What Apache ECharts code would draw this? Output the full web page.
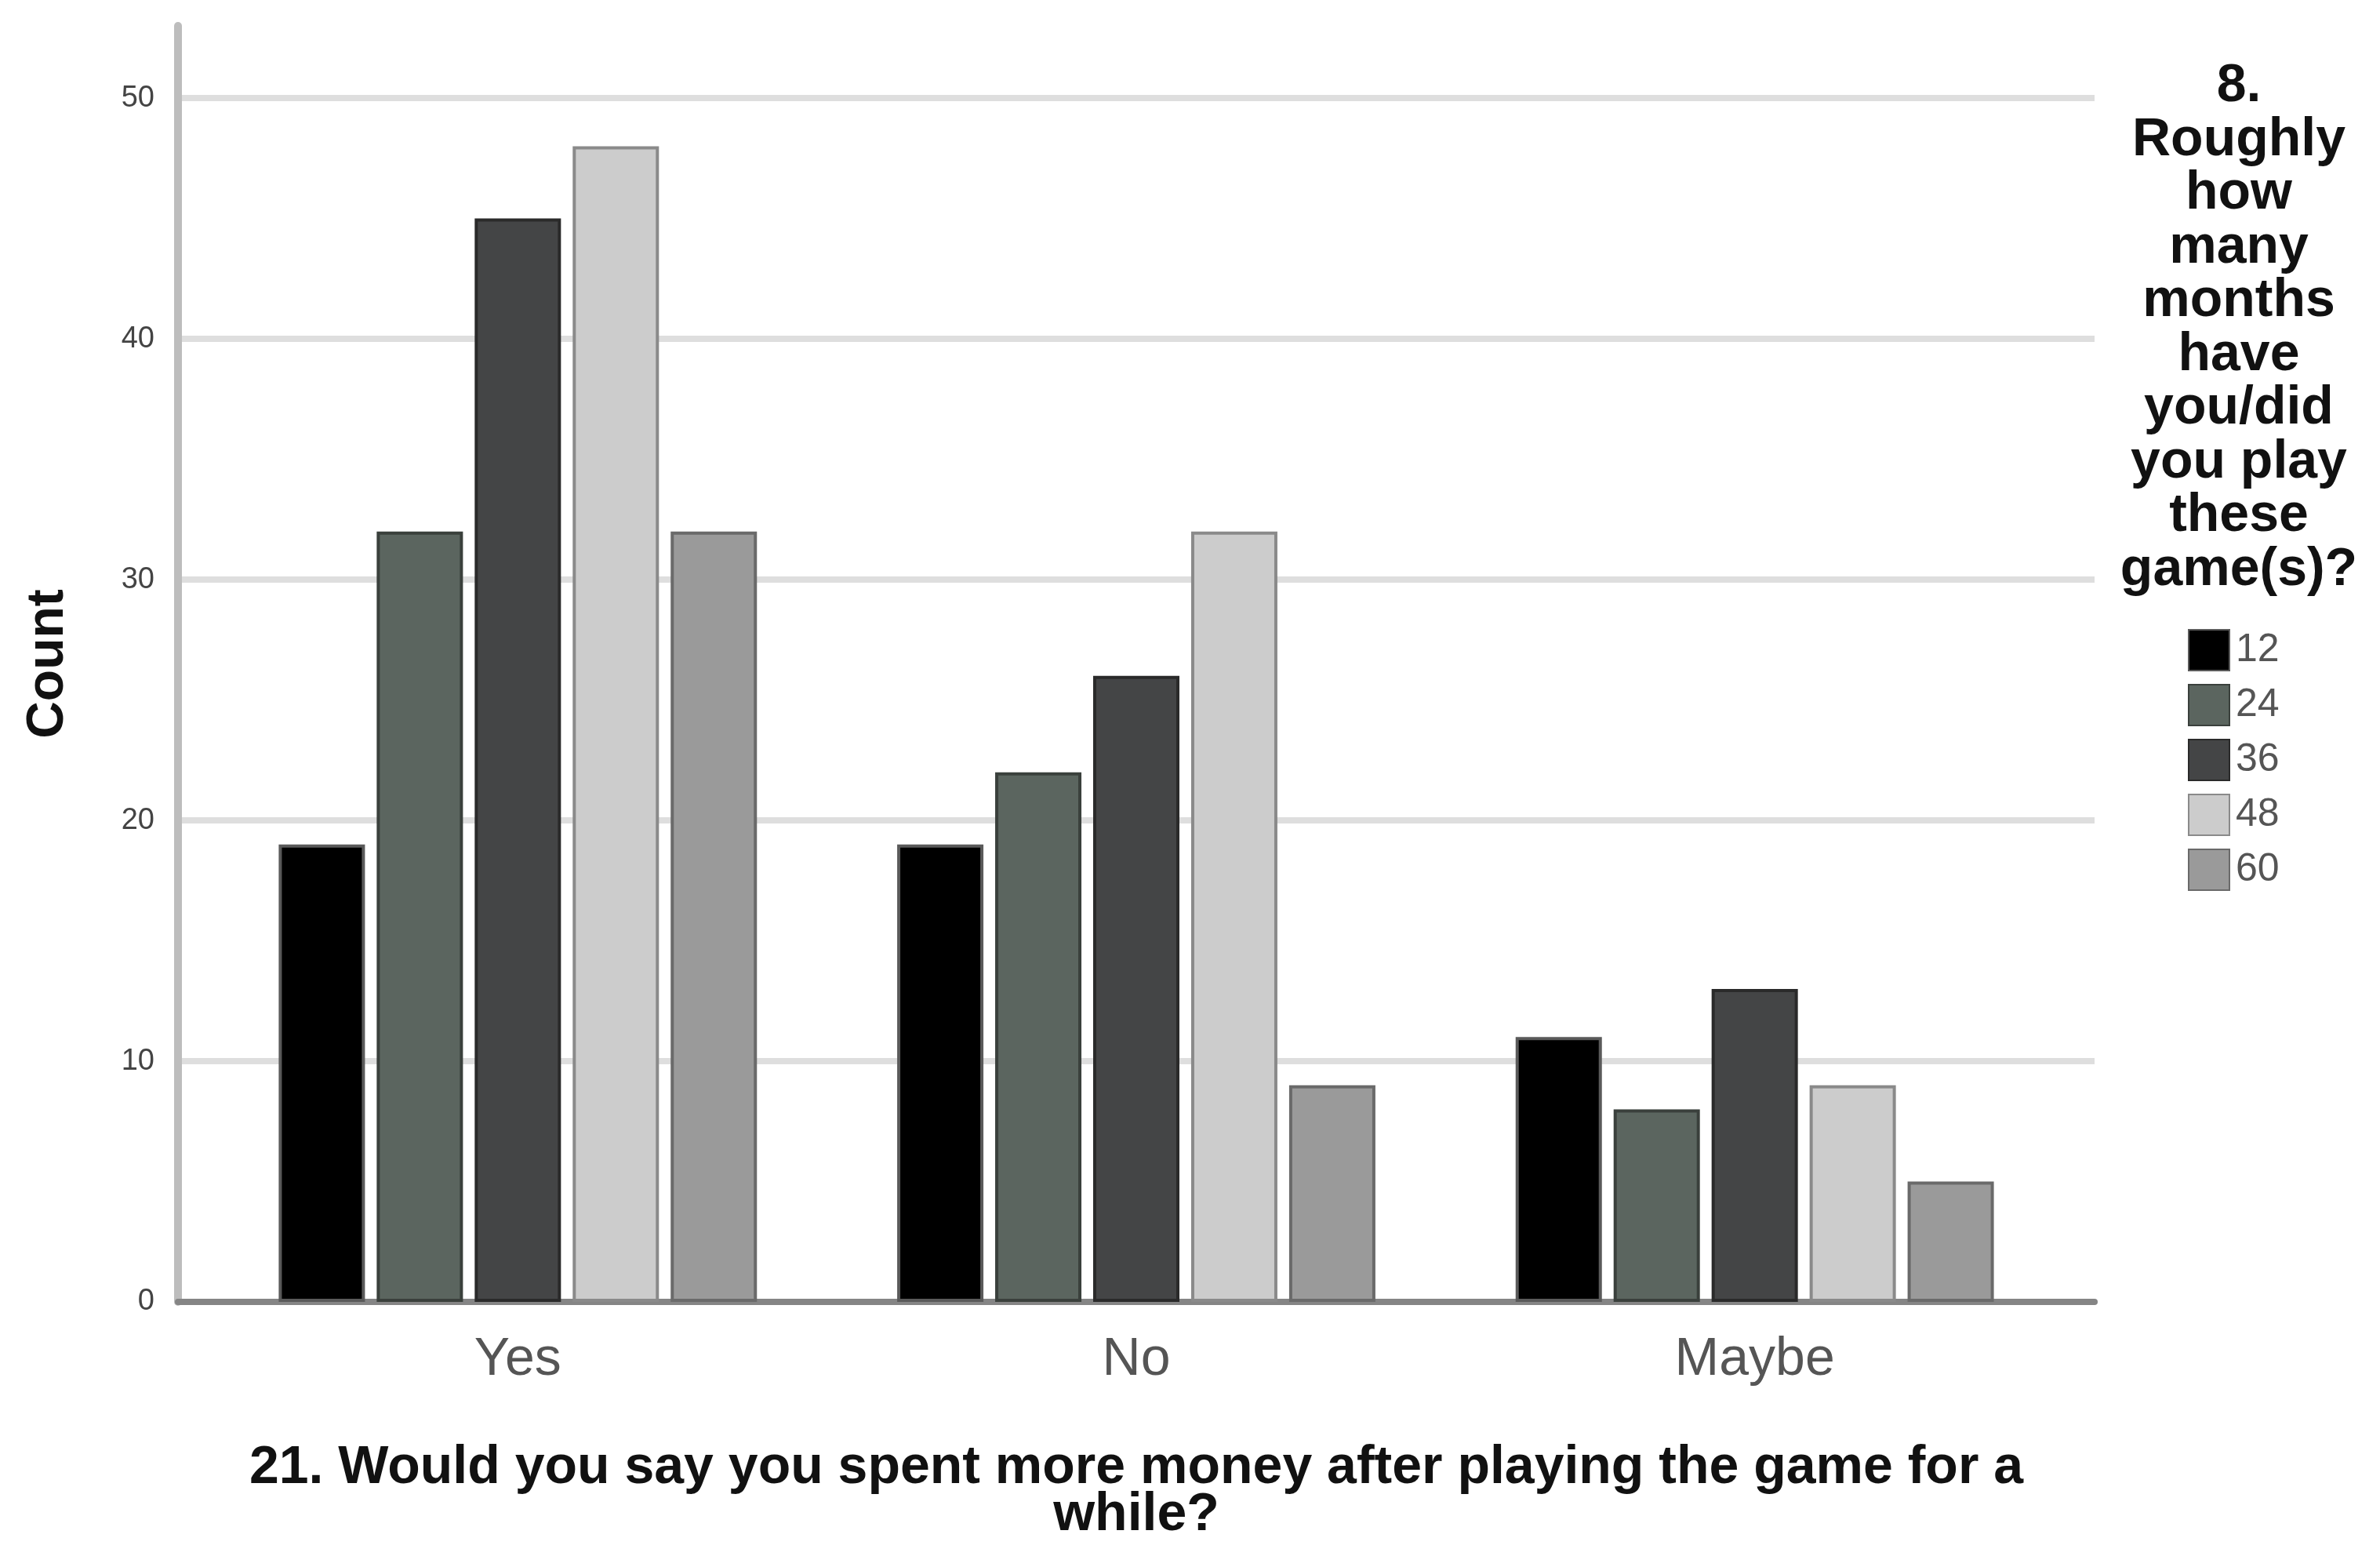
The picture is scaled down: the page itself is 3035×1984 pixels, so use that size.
<!DOCTYPE html>
<html>
<head>
<meta charset="utf-8">
<title>Spent more money by months played</title>
<script src="https://cdn.jsdelivr.net/npm/echarts@6/dist/echarts.min.js"></script>
<style>
    html, body { margin: 0; padding: 0; background: #fff; }
    #main { width: 3035px; height: 1984px; }
</style>
</head>
<body>
<div id="main"></div>
<script>
// answers to question 21 (x axis)
var categories = ['Yes', 'No', 'Maybe']
// months played (legend)
var months = ['12', '24', '36', '48', '60']
// counts per month group, in order Yes / No / Maybe
var m12 = [19, 19, 11]
var m24 = [32, 22, 8]
var m36 = [45, 26, 13]
var m48 = [48, 32, 9]
var m60 = [32, 9, 5]
var yTicks = [0, 10, 20, 30, 40, 50]

var fills = ['#000000', '#5b655f', '#444546', '#cccccc', '#9a9a9a']
var borders = ['#5a5a5a', '#3a403c', '#2a2a2a', '#8a8a8a', '#6a6a6a']
var allData = [m12, m24, m36, m48, m60]

var series = []
for (var i = 0; i < months.length; i++) {
    series.push({
        name: months[i],
        type: 'bar',
        xAxisIndex: 1,
        yAxisIndex: 1,
        data: allData[i],
        barWidth: 110,
        barGap: '13.6%',
        z: 5,
        itemStyle: {
            color: fills[i],
            borderColor: borders[i],
            borderWidth: 4
        }
    })
}

var mCharts = echarts.init(document.getElementById('main'))
var option = {
    animation: false,
    backgroundColor: '#ffffff',
    textStyle: { fontFamily: 'Liberation Sans, Arial, sans-serif' },
    title: {
        text: '8.\nRoughly\nhow\nmany\nmonths\nhave\nyou/did\nyou play\nthese\ngame(s)?',
        left: 2855,
        top: 76,
        textAlign: 'center',
        padding: 0,
        textStyle: {
            fontSize: 68,
            fontWeight: 'bold',
            color: '#111',
            lineHeight: 68.5,
            align: 'center'
        }
    },
    legend: {
        data: months,
        orient: 'vertical',
        left: 2790,
        top: 801,
        padding: 0,
        itemWidth: 52,
        itemHeight: 52,
        itemGap: 14,
        icon: 'rect',
        textStyle: { fontSize: 50, lineHeight: 56, color: '#555', padding: [0, 0, 0, 3] }
    },
    grid: [
        // outer grid: y axis, gridlines, base line
        { left: 227, right: 364, top: 33, bottom: 324, containLabel: false, outerBoundsMode: 'none' },
        // inner grid: bars and categories (padded in from the axes)
        { left: 266, right: 403, top: 33, bottom: 324, containLabel: false, outerBoundsMode: 'none' }
    ],
    xAxis: [
        {
            gridIndex: 0,
            type: 'value',
            min: 0,
            max: 1,
            axisLine: { show: true, lineStyle: { color: '#858585', width: 8 } },
            axisTick: { show: false },
            axisLabel: { show: false },
            splitLine: { show: false }
        },
        {
            gridIndex: 1,
            type: 'category',
            data: categories,
            axisLine: { show: false },
            axisTick: { show: false },
            axisLabel: { fontSize: 68, color: '#555', margin: 40 },
            name: '21. Would you say you spent more money after playing the game for a\nwhile?',
            nameLocation: 'middle',
            nameGap: 182,
            nameTextStyle: { fontSize: 68, fontWeight: 'bold', color: '#111', lineHeight: 60, align: 'center' }
        }
    ],
    yAxis: [
        {
            gridIndex: 0,
            type: 'value',
            min: 0,
            max: 53,
            interval: 10,
            axisLine: { show: true, lineStyle: { color: '#bdbdbd', width: 10 } },
            axisTick: { show: false },
            axisLabel: {
                fontSize: 38,
                color: '#444',
                margin: 30,
                showMaxLabel: false,
                formatter: function (v) {
                    return yTicks.indexOf(v) >= 0 ? String(v) : ''
                }
            },
            splitLine: { show: true, showMaxLine: false, lineStyle: { color: '#dedede', width: 8 } },
            name: 'Count',
            nameLocation: 'middle',
            nameRotate: 90,
            nameGap: 132,
            nameTextStyle: { fontSize: 66, fontWeight: 'bold', color: '#111' }
        },
        {
            gridIndex: 1,
            type: 'value',
            min: 0,
            max: 53,
            interval: 10,
            show: false
        }
    ],
    series: series
}
mCharts.setOption(option)
</script>
</body>
</html>
